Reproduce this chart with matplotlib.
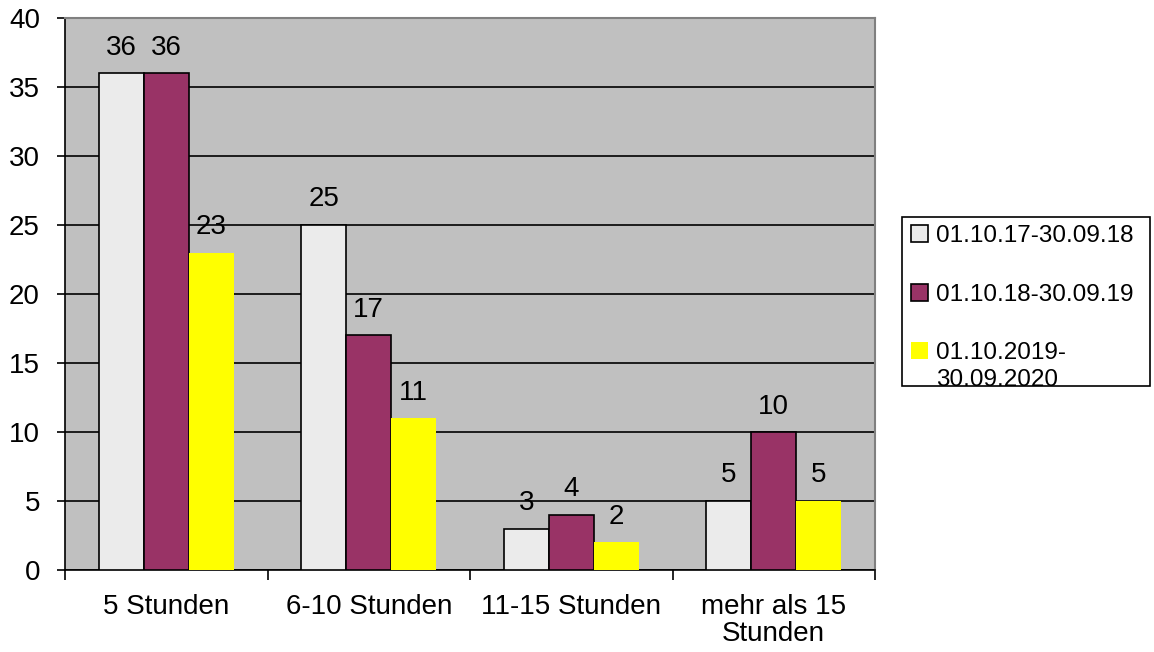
import numpy as np
import matplotlib.pyplot as plt
from matplotlib.patches import Rectangle

plt.rcParams['font.family'] = ['Liberation Sans', 'DejaVu Sans']

categories = ["5 Stunden", "6-10 Stunden", "11-15 Stunden", "mehr als 15\nStunden"]
series_names = ["01.10.17-30.09.18", "01.10.18-30.09.19", "01.10.2019-\n30.09.2020"]
vals_1718 = [36, 25, 3, 5]
vals_1819 = [36, 17, 4, 10]
vals_1920 = [23, 11, 2, 5]

colors = ['#EBEBEB', '#993366', '#FFFF00']
edges = ['black', 'black', 'none']

W, H = 1154, 652
fig = plt.figure(figsize=(W/100, H/100), dpi=100)
ax = fig.add_axes([65/W, 1-570/H, (875-65)/W, (570-18)/H])
ax.set_facecolor('#C0C0C0')

x = np.arange(len(categories))
w = 0.222
data = [vals_1718, vals_1819, vals_1920]
handles = []
for i, vals in enumerate(data):
    b = ax.bar(x + (i-1)*w, vals, w, color=colors[i], edgecolor=edges[i],
               linewidth=1.2, zorder=3, label=series_names[i])
    handles.append(b)
    for xi, v in zip(x + (i-1)*w, vals):
        ax.annotate(str(v), (xi, v), xytext=(0, 9), textcoords='offset points',
                    ha='center', va='bottom', fontsize=20)

ax.set_xlim(-0.5, 3.5)
ax.set_ylim(0, 40)
ax.set_yticks(range(0, 41, 5))
ax.yaxis.grid(True, color='black', linewidth=1.2, zorder=0)
ax.set_axisbelow(True)

ax.set_xticks(x)
ax.set_xticklabels(categories, linespacing=1.05)
ax.set_xticks(np.arange(-0.5, 4, 1), minor=True)
ax.tick_params(axis='x', which='major', length=0, labelsize=20, pad=17)
ax.tick_params(axis='x', which='minor', length=7, width=1.2, direction='out')
ax.tick_params(axis='y', length=6, width=1.2, labelsize=20, pad=12)

for s in ['top', 'right']:
    ax.spines[s].set_color('#808080')
    ax.spines[s].set_linewidth(1.5)
for s in ['left', 'bottom']:
    ax.spines[s].set_color('black')
    ax.spines[s].set_linewidth(1.2)

# legend: handle sits beside the first line of each name (like Excel),
# so the legend holds the first lines and the wrapped rest is added below
first_lines = [n.split('\n')[0] for n in series_names]
leg = fig.legend(handles=handles, labels=first_lines, loc='upper left',
                 bbox_to_anchor=(904/W, 1-218/H), fontsize=17.5,
                 frameon=False, handlelength=0.7, handleheight=0.7,
                 handletextpad=0.3, labelspacing=1.5, borderpad=0.3,
                 borderaxespad=0)
fig.canvas.draw()
for t, name in zip(leg.get_texts(), series_names):
    rest = name.split('\n')[1:]
    if rest:
        bb = t.get_window_extent()
        fig.text(bb.x0/W, (bb.y0 - 27)/H, '\n'.join(rest), fontsize=17.5,
                 ha='left', va='bottom')

fig.patches.append(Rectangle((902/W, 1-386/H), (1150-902)/W, (386-217)/H,
                             transform=fig.transFigure, fill=False,
                             edgecolor='black', linewidth=1.2))

fig.savefig('out.png', dpi=100)
